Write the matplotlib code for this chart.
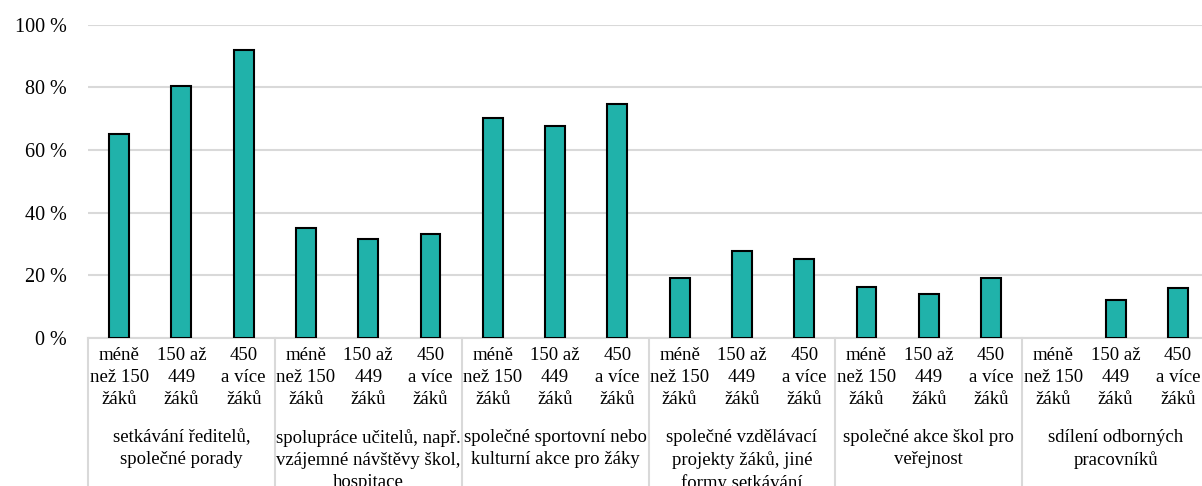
import numpy as np
import matplotlib
matplotlib.use("Agg")
import matplotlib.pyplot as plt

plt.rcParams["font.family"] = ["Liberation Serif", "DejaVu Serif"]

# Data
groups = [
    "setkávání ředitelů,\nspolečné porady",
    "spolupráce učitelů, např.\nvzájemné návštěvy škol,\nhospitace",
    "společné sportovní nebo\nkulturní akce pro žáky",
    "společné vzdělávací\nprojekty žáků, jiné\nformy setkávání",
    "společné akce škol pro\nveřejnost",
    "sdílení odborných\npracovníků",
]
sizes = ["méně\nnež 150\nžáků", "150 až\n449\nžáků", "450\na více\nžáků"]
values = [
    65.0, 80.5, 92.0,
    35.0, 31.5, 33.2,
    70.2, 67.5, 74.5,
    19.0, 27.7, 25.3,
    16.2, 14.0, 19.0,
    np.nan, 12.0, 15.8,
]
yticks = [0, 20, 40, 60, 80, 100]

W, H = 1202, 486
fig = plt.figure(figsize=(W / 100, H / 100), dpi=100)
left, right, top, bottom = 88, 1209, 24.5, 338
ax = fig.add_axes([left / W, (H - bottom) / H, (right - left) / W, (bottom - top) / H])

x = np.arange(len(values))
ax.bar(x, values, width=0.32, color="#20B2AA", edgecolor="black", linewidth=1.5, zorder=3)

ax.set_xlim(-0.5, len(values) - 0.5)
ax.set_ylim(0, 100)
ax.set_yticks(yticks)
ax.set_yticklabels([f"{v} %" for v in yticks], fontsize=14.5)
ax.tick_params(axis="y", length=0, pad=15)
ax.set_xticks([])
ax.grid(axis="y", color="#d9d9d9", linewidth=1.5, zorder=0)
for s in ["top", "right", "left"]:
    ax.spines[s].set_visible(False)
ax.spines["bottom"].set_color("#d9d9d9")
ax.spines["bottom"].set_linewidth(1.5)

trans = ax.get_xaxis_transform()
axh = bottom - top
# size labels
for i in x:
    ax.text(i, -9 / axh, sizes[i % 3], transform=trans, ha="center", va="top",
            fontsize=13.5, linespacing=1.38, clip_on=False)
# group labels and separators
for g, name in enumerate(groups):
    ax.text(3 * g + 1, -91 / axh, name, transform=trans, ha="center", va="top",
            fontsize=13.5, linespacing=1.38, clip_on=False)
for g in range(len(groups) + 1):
    ax.plot([3 * g - 0.5, 3 * g - 0.5], [0, -150 / axh], transform=trans,
            color="#d9d9d9", linewidth=1.5, clip_on=False)

fig.savefig("out.png", dpi=100)
